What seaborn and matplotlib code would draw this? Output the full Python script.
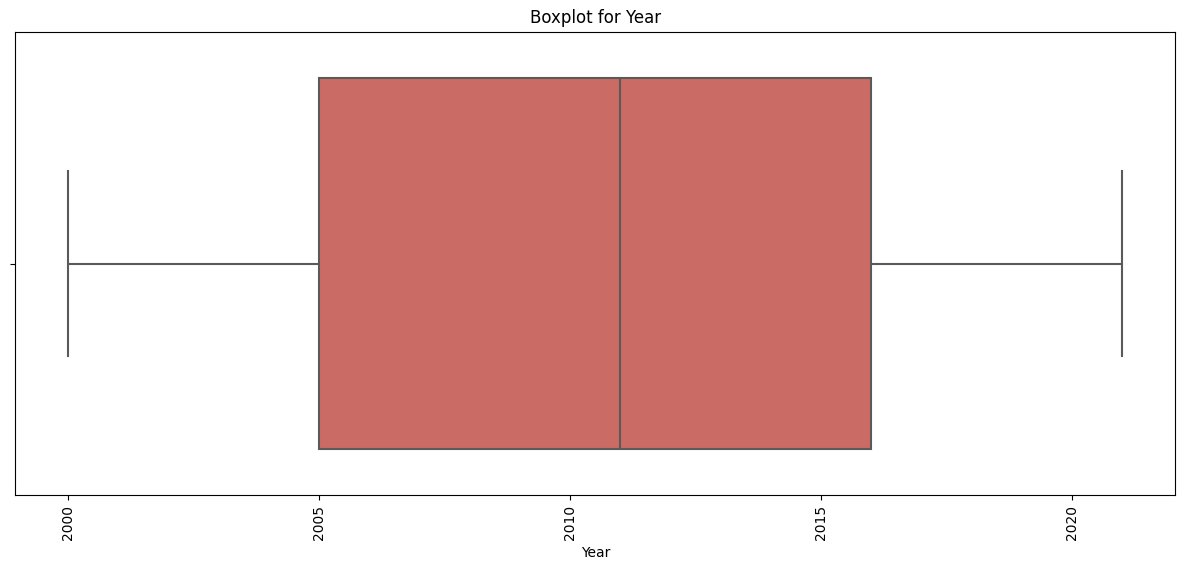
import matplotlib
matplotlib.use('Agg')
import matplotlib.pyplot as plt
import seaborn as sns
import pandas as pd

# Year values chosen so the quartiles come out as in the picture: min 2000, Q1 2005, median 2011, Q3 2016, max 2021
years = [2000, 2005, 2005, 2011, 2016, 2016, 2021]
df = pd.DataFrame({'Year': years})

fig, ax = plt.subplots(figsize=(11.87, 5.68), dpi=100)
sns.boxplot(x='Year', data=df, color='#ca6c65', saturation=1,
            linecolor='#5a5a5a', linewidth=1.5, ax=ax)
ax.set_title('Boxplot for Year')
ax.set_xlabel('Year')
plt.xticks(rotation=90)
fig.subplots_adjust(left=0.013, right=0.99, top=0.944, bottom=0.128)
fig.savefig('out.png')
